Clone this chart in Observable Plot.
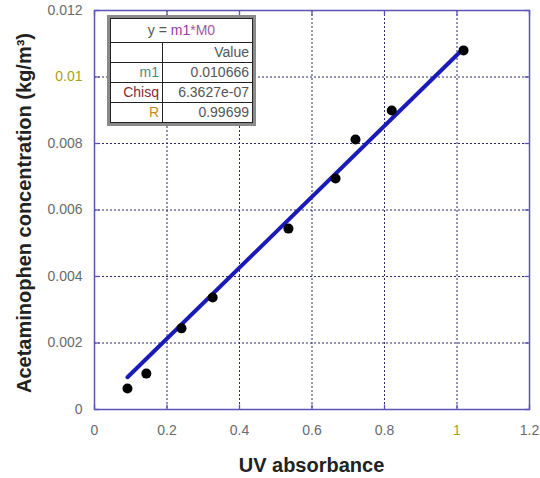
<!DOCTYPE html>
<html>
<head>
<meta charset="utf-8">
<script src="https://cdn.jsdelivr.net/npm/d3@7"></script>
<script src="https://cdn.jsdelivr.net/npm/@observablehq/plot@0.6"></script>
<style>
  body { margin: 0; background: #fff; }
  #wrap { position: relative; width: 540px; height: 478px; font-family: Arial, "Liberation Sans", sans-serif; }
  #fit { position: absolute; left: 107px; top: 15px; border: 3px solid #8a8a8a; background: #fff; box-sizing: border-box; width: 149px; }
  #fit table { border-collapse: collapse; width: 100%; font-size: 14px; color: #555; }
  #fit td { border: 1px solid #222; padding: 0 3px; height: 19px; text-align: right; line-height: 19px; }
  #fit td.title { text-align: center; height: 23px; }
</style>
</head>
<body>
<div id="wrap"></div>
<script>
const absorbance = [0.091, 0.143, 0.24, 0.326, 0.535, 0.665, 0.72, 0.82, 1.018];
const concentration = [0.00063, 0.00108, 0.00244, 0.00337, 0.00544, 0.00695, 0.00812, 0.00899, 0.0108];
const xTicks = [0, 0.2, 0.4, 0.6, 0.8, 1, 1.2];
const yTicks = [0, 0.002, 0.004, 0.006, 0.008, 0.01, 0.012];
const slope = 0.010666;
const fitLabels = ["m1", "Chisq", "R"];
const fitValues = ["0.010666", "6.3627e-07", "0.99699"];

const points = absorbance.map((x, i) => ({x, y: concentration[i]}));
const xMin = d3.min(absorbance), xMax = d3.max(absorbance);
const fitLine = [xMin, xMax].map(x => ({x, y: slope * x}));

const axisColor = "#5a55b5";
const gridColor = "#2a2a6a";
const tickText = "#6a6a6a";

// inward tick glyphs (5px)
const tickUp = {draw(c) { c.moveTo(0, 0); c.lineTo(0, -5); }};
const tickDown = {draw(c) { c.moveTo(0, 0); c.lineTo(0, 5); }};
const tickRight = {draw(c) { c.moveTo(0, 0); c.lineTo(5, 0); }};
const tickLeft = {draw(c) { c.moveTo(0, 0); c.lineTo(-5, 0); }};

const yMax = yTicks[yTicks.length - 1], xMaxDom = xTicks[xTicks.length - 1];

const chart = Plot.plot({
  width: 540,
  height: 478,
  marginLeft: 94,
  marginRight: 11,
  marginTop: 10,
  marginBottom: 69,
  style: {background: "#fff", fontFamily: "Arial, 'Liberation Sans', sans-serif"},
  x: {domain: [0, 1.2]},
  y: {domain: [0, 0.012]},
  marks: [
    Plot.gridX(xTicks, {stroke: gridColor, strokeOpacity: 1, strokeDasharray: "2,2"}),
    Plot.gridY(yTicks, {stroke: gridColor, strokeOpacity: 1, strokeDasharray: "2,2"}),
    Plot.axisX(xTicks, {anchor: "bottom", tickSize: 0, tickPadding: 16, fontSize: 14, fill: d => d === 1 ? "#a8a020" : tickText, tickFormat: d => String(d), label: null}),
    Plot.axisY(yTicks, {anchor: "left", tickSize: 0, tickPadding: 12, fontSize: 14, fill: d => d === 0.01 ? "#a8a020" : tickText, tickFormat: d => String(d), label: null}),
    Plot.dot(xTicks, {x: d => d, y: () => 0, symbol: tickUp, stroke: axisColor, fill: "none", strokeWidth: 1.3}),
    Plot.dot(xTicks, {x: d => d, y: () => yMax, symbol: tickDown, stroke: axisColor, fill: "none", strokeWidth: 1.3}),
    Plot.dot(yTicks, {y: d => d, x: () => 0, symbol: tickRight, stroke: axisColor, fill: "none", strokeWidth: 1.3}),
    Plot.dot(yTicks, {y: d => d, x: () => xMaxDom, symbol: tickLeft, stroke: axisColor, fill: "none", strokeWidth: 1.3}),
    Plot.frame({stroke: axisColor, strokeWidth: 1.5}),
    Plot.line(fitLine, {x: "x", y: "y", stroke: "#1a1ab8", strokeWidth: 4}),
    Plot.dot(points, {x: "x", y: "y", r: 5, fill: "#000", stroke: "none"})
  ]
});

const svg = d3.select(chart);
svg.append("text")
  .attr("x", 311.5).attr("y", 472)
  .attr("text-anchor", "middle")
  .attr("font-size", 20).attr("font-weight", "bold").attr("fill", "#222")
  .text("UV absorbance");
svg.append("text")
  .attr("transform", "translate(31,213) rotate(-90)")
  .attr("text-anchor", "middle")
  .attr("font-size", 20).attr("font-weight", "bold").attr("fill", "#222")
  .text("Acetaminophen concentration (kg/m³)");

const wrap = document.getElementById("wrap");
wrap.appendChild(chart);

const labelColors = {m1: "#4a8a7a", Chisq: "#8a2a3a", R: "#c08a20"};
const box = document.createElement("div");
box.id = "fit";
let html = '<table><tr><td class="title" colspan="2">y = <span style="color:#9a3a9a">m1</span><span style="color:#a05aa0">*M0</span></td></tr>';
html += '<tr><td style="width:45px"></td><td>Value</td></tr>';
fitLabels.forEach((l, i) => {
  html += `<tr><td style="color:${labelColors[l]}">${l}</td><td>${fitValues[i]}</td></tr>`;
});
html += '</table>';
box.innerHTML = html;
wrap.appendChild(box);
</script>
</body>
</html>
